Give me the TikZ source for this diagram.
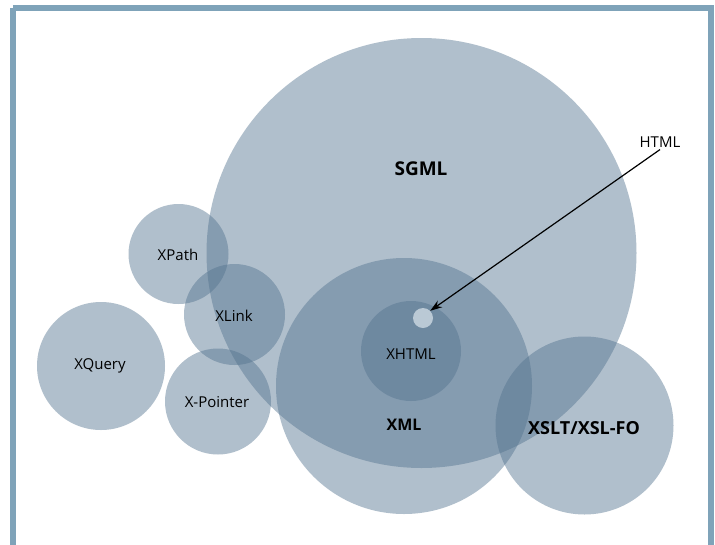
\documentclass[tikz,border=0pt]{standalone}
\usepackage{fontspec}
\setmainfont{Open Sans}
\usetikzlibrary{arrows.meta}
\definecolor{frameblue}{RGB}{127,163,185}
\definecolor{disc}{RGB}{82,114,142}
\definecolor{htmlfill}{RGB}{186,201,213}
\begin{document}
\begin{tikzpicture}[x=1pt,y=-1pt,
  bubble/.style={circle,fill=disc,fill opacity=0.45,text opacity=1,inner sep=0pt,draw=none},
  lbl/.style={font=\fontsize{15}{18}\selectfont,text=black},
  blbl/.style={font=\fontsize{16}{19}\selectfont\bfseries,text=black}]
\useasboundingbox (0,0) rectangle (715,544);
\fill[white] (0,0) rectangle (715,544);
% circles
\node[bubble,minimum size=430pt] (sgml) at (421.5,253) {};
\node[bubble,minimum size=256pt] (xml) at (404,386) {};
\node[bubble,minimum size=100pt] (xhtml) at (411,351) {};
\node[circle,fill=htmlfill,minimum size=20pt,inner sep=0pt] (htmlc) at (423,318) {};
\node[bubble,minimum size=178pt] (xslt) at (584.5,425.5) {};
\node[bubble,minimum size=100pt] (xpath) at (178.5,254) {};
\node[bubble,minimum size=101pt] (xlink) at (234.5,314.5) {};
\node[bubble,minimum size=106pt] (xpointer) at (218,401.5) {};
\node[bubble,minimum size=128pt] (xquery) at (101,366) {};
% labels
\node[blbl,font=\fontsize{19}{22}\selectfont\bfseries] (sgmlt) at (421,169) {SGML};
\node[blbl] (xmlt) at (404,425) {XML};
\node[blbl,font=\fontsize{18}{21}\selectfont\bfseries] (xsltt) at (584,428) {XSLT/XSL-FO};
\node[lbl] (xhtmlt) at (411,354) {XHTML};
\node[lbl] (xpatht) at (178,255) {XPath};
\node[lbl] (xlinkt) at (234,316) {XLink};
\node[lbl] (xpointert) at (217,402) {X-Pointer};
\node[lbl] (xqueryt) at (100,366) {XQuery};
\node[lbl,inner sep=2pt] (htmlt) at (660,142) {HTML};
% arrow
\draw[line width=1.2pt,-{Stealth[length=12pt,width=8pt]}] (htmlt.south) -- (htmlc.north east);
% frame
\draw[frameblue,line width=5.5pt] (12.75,7.75) -- (711,7.75) -- (711,560)
  (12.75,7.75) -- (12.75,560);
\end{tikzpicture}
\end{document}
